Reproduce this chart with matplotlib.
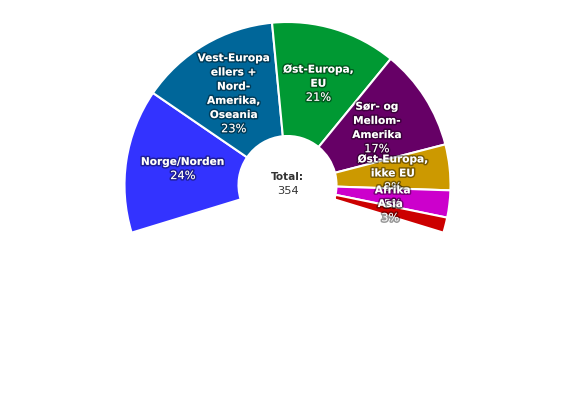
import numpy as np
import matplotlib
matplotlib.use("Agg")
import matplotlib.pyplot as plt
from matplotlib.patches import Wedge
import matplotlib.patheffects as pe

# ---- data ----
categories = ["Norge/Norden",
              "Vest-Europa\nellers +\nNord-\nAmerika,\nOseania",
              "Øst-Europa,\nEU",
              "Sør- og\nMellom-\nAmerika",
              "Øst-Europa,\nikke EU",
              "Afrika",
              "Asia"]
values = [85, 83, 74, 60, 27, 16, 9]
colors = ["#3333FF", "#006699", "#009933", "#660066", "#CC9900", "#CC00CC", "#CC0000"]
total_label = "Total:"

# ---- layout ----
W, H = 575, 400
fig = plt.figure(figsize=(W / 100, H / 100), dpi=100)
ax = fig.add_axes([0, 0, 1, 1])
ax.set_xlim(0, W)
ax.set_ylim(H, 0)
ax.axis("off")

cx, cy = 287.5, 185
r_out, r_in = 163, 49
start_angle, end_angle = -107, 107  # degrees clockwise from top
span = end_angle - start_angle
total = sum(values)

fs = 7.6
fs_pct = 8.2
line_h = 14.2
outline = [pe.withStroke(linewidth=2.2, foreground=(0, 0, 0, 0.4))]

a = start_angle
label_specs = []
for name, v, c in zip(categories, values, colors):
    sweep = v / total * span
    a0, a1 = a, a + sweep
    w = Wedge((cx, cy), r_out, a0 - 90, a1 - 90, width=r_out - r_in, facecolor=c,
              edgecolor="white", linewidth=1.5)
    ax.add_patch(w)
    mid = np.deg2rad((a0 + a1) / 2)
    rm = (r_out + r_in) / 2
    lx = cx + rm * np.sin(mid)
    ly = cy - rm * np.cos(mid)
    label_specs.append((name, v, lx, ly))
    a = a1

for name, v, lx, ly in label_specs:
    lines = name.split("\n")
    n = len(lines) + 1
    y0 = ly - (n - 1) * line_h / 2
    for i, ln in enumerate(lines):
        ax.text(lx, y0 + i * line_h, ln, ha="center", va="center", fontsize=fs,
                fontweight="bold", color="white", path_effects=outline,
                family="DejaVu Sans")
    ax.text(lx, y0 + len(lines) * line_h, f"{v / total * 100:.0f}%", ha="center",
            va="center", fontsize=fs_pct, color="white", path_effects=outline,
            family="DejaVu Sans")

ax.text(cx, cy - 7.5, total_label, ha="center", va="center", fontsize=fs,
        fontweight="bold", color="#333333")
ax.text(cx, cy + 6.5, f"{total}", ha="center", va="center", fontsize=fs_pct,
        color="#333333")

fig.savefig("out.png", dpi=100)
